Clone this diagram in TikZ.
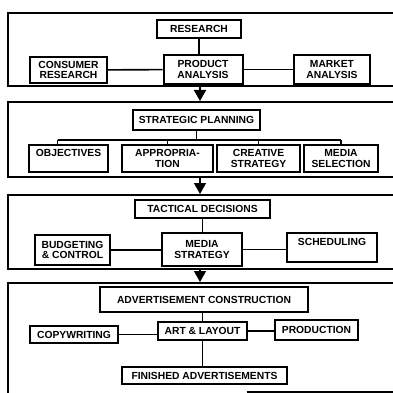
\documentclass[tikz,border=0pt]{standalone}
\usepackage{fontspec}
\setmainfont{Liberation Sans}
\usepackage{tikz}
\usetikzlibrary{arrows.meta, positioning, calc}

\begin{document}
\begin{tikzpicture}[x=1pt, y=-1pt,
    every node/.style={font=\bfseries\fontsize{10.3}{10.5}\selectfont, align=center},
    box/.style={draw, line width=2pt, inner sep=1pt},
    panel/.style={line width=2pt},
    link/.style={line width=1.6pt},
    flow/.style={line width=1.6pt, -{Triangle[width=12pt, length=11pt]}}]
    \useasboundingbox (0,0) rectangle (393,393);

    % research
    \draw[panel] (393,13) -- (8,13) -- (8,86) -- (393,86);
    \node[box, minimum width=84, minimum height=18] (research) at (199,29) {RESEARCH};
    \node[box, minimum width=79, minimum height=29] (prod) at (203,69.5) {PRODUCT\\ANALYSIS};
    \node[box, minimum width=77, minimum height=26] (consumer) at (68.5,70) {CONSUMER\\RESEARCH};
    \node[box, minimum width=76, minimum height=29] (market) at (332,69.5) {MARKET\\ANALYSIS};
    \draw[link] (research) -- (research.south |- prod.north);
    \draw[link] (consumer) -- (prod);
    \draw[link] (prod) -- (market);

    \coordinate (p1b) at (200,86);
    \coordinate (p2t) at (200,101);
    \draw[flow] (p1b) -- (p2t);

    % strategic planning
    \draw[panel] (393,102) -- (8,102) -- (8,177) -- (393,177);
    \node[box, minimum width=127, minimum height=20] (strat) at (196.5,120) {STRATEGIC PLANNING};
    \node[box, minimum width=79, minimum height=27] (obj) at (68.5,158.5) {OBJECTIVES\\\phantom{X}};
    \node[box, minimum width=91, minimum height=27] (approp) at (167.5,158.5) {APPROPRIA-\\TION};
    \node[box, minimum width=83, minimum height=27] (creative) at (258.5,158.5) {CREATIVE\\STRATEGY};
    \node[box, minimum width=74, minimum height=27] (medsel) at (341,158.5) {MEDIA\\SELECTION};
    \coordinate (bus) at (200,140);
    \draw[link] (strat.south) -- (strat.south |- bus);
    \draw[link] ([xshift=-11]obj.north |- bus) -- (medsel.north |- bus);
    \draw[link] ([xshift=-11]obj.north) -- ([xshift=-11]obj.north |- bus);
    \foreach \n in {approp, creative, medsel}
        \draw[link] (\n.north) -- (\n.north |- bus);

    \coordinate (p2b) at (200,177);
    \coordinate (p3t) at (200,194);
    \draw[flow] (p2b) -- (p3t);

    % tactical decisions
    \draw[panel] (393,195) -- (8,195) -- (8,269) -- (393,269);
    \node[box, minimum width=135, minimum height=18] (tact) at (202.5,209) {TACTICAL DECISIONS};
    \node[box, minimum width=80, minimum height=33] (medstrat) at (202,249.5) {MEDIA\\STRATEGY};
    \node[box, minimum width=75, minimum height=30] (budget) at (72.5,250) {BUDGETING\\\&~CONTROL};
    \node[box, minimum width=90, minimum height=29] (sched) at (332,247.5) {SCHEDULING\\\phantom{X}};
    \draw[link] (tact) -- (tact.south |- medstrat.north);
    \draw[link] (budget) -- (budget -| medstrat.west);
    \draw[link] (medstrat) -- (medstrat -| sched.west);

    \coordinate (p3b) at (200,269);
    \coordinate (p4t) at (200,282);
    \draw[flow] (p3b) -- (p4t);

    % advertisement construction
    \draw[panel] (393,283) -- (8,283) -- (8,393);
    \draw[panel] (247,392) -- (393,392);
    \node[box, minimum width=208, minimum height=25] (advcon) at (204,299.5) {ADVERTISEMENT CONSTRUCTION};
    \node[box, minimum width=89, minimum height=18] (art) at (202.5,331) {ART \& LAYOUT};
    \node[box, minimum width=88, minimum height=17] (copy) at (74,334.5) {COPYWRITING};
    \node[box, minimum width=83, minimum height=20] (production) at (316.5,330) {PRODUCTION};
    \node[box, minimum width=165, minimum height=17] (finished) at (204.5,375.5) {FINISHED ADVERTISEMENTS};
    \draw[link] (advcon.south -| art.north) -- (art.north);
    \draw[link] (copy) -- (copy -| art.west);
    \draw[link] (art) -- (art -| production.west);
    \draw[link] (art.south) -- (art.south |- finished.north);
\end{tikzpicture}
\end{document}
